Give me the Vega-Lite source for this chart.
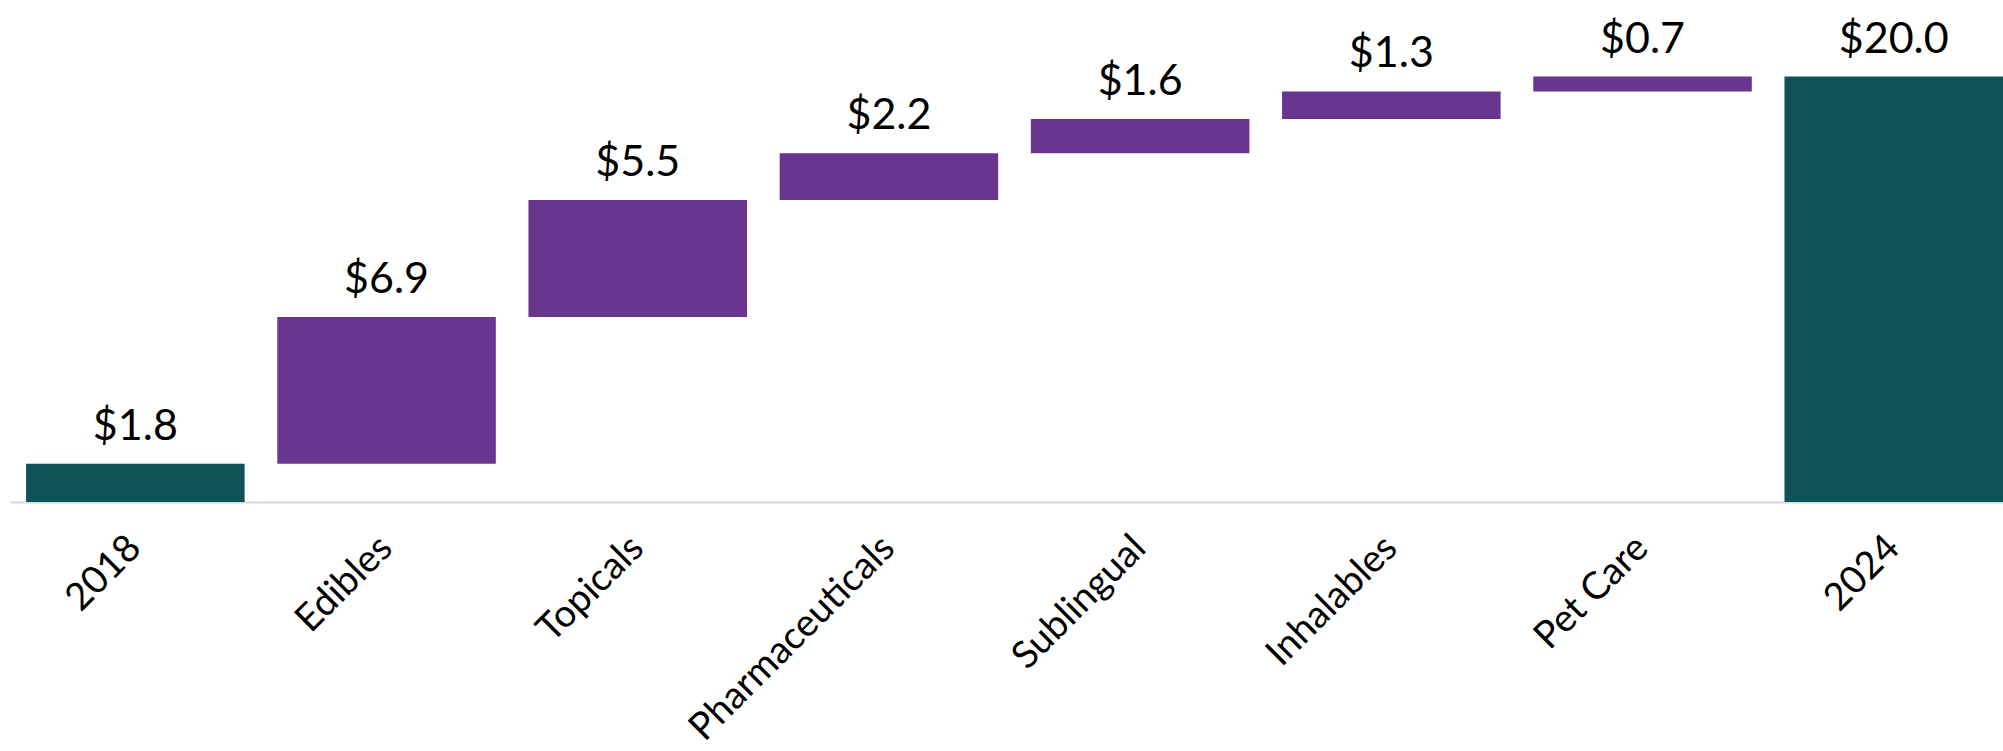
{
  "$schema": "https://vega.github.io/schema/vega-lite/v6.json",
  "autosize": {"type": "none"},
  "width": 1993,
  "height": 502,
  "padding": {"left": 10, "top": 0, "right": 0, "bottom": 249},
  "background": "white",
  "config": {"view": {"stroke": null}},
  "data": {
    "values": [
      {"category": "2018", "start": 0, "end": 1.8, "amount": 1.8, "kind": "total"},
      {"category": "Edibles", "start": 1.8, "end": 8.7, "amount": 6.9, "kind": "change"},
      {"category": "Topicals", "start": 8.7, "end": 14.2, "amount": 5.5, "kind": "change"},
      {"category": "Pharmaceuticals", "start": 14.2, "end": 16.4, "amount": 2.2, "kind": "change"},
      {"category": "Sublingual", "start": 16.4, "end": 18.0, "amount": 1.6, "kind": "change"},
      {"category": "Inhalables", "start": 18.0, "end": 19.3, "amount": 1.3, "kind": "change"},
      {"category": "Pet Care", "start": 19.3, "end": 20.0, "amount": 0.7, "kind": "change"},
      {"category": "2024", "start": 0, "end": 20.0, "amount": 20.0, "kind": "total"}
    ]
  },
  "encoding": {
    "x": {
      "field": "category",
      "type": "nominal",
      "sort": null,
      "scale": {"paddingInner": 0.13, "paddingOuter": 0.032, "align": 1},
      "axis": {
        "title": null,
        "labelAngle": -45,
        "labelAlign": "right",
        "labelBaseline": "middle",
        "labelFont": "Lato",
        "labelFontSize": 38,
        "labelColor": "#000000",
        "labelPadding": 40,
        "labelLimit": 0,
        "labelOverlap": false,
        "ticks": false,
        "grid": false,
        "domainColor": "#d9d9d9",
        "domainWidth": 2
      }
    }
  },
  "layer": [
    {
      "mark": {"type": "bar"},
      "encoding": {
        "y": {
          "field": "start",
          "type": "quantitative",
          "scale": {"domain": [0, 23.6], "nice": false},
          "axis": null
        },
        "y2": {"field": "end"},
        "color": {
          "field": "kind",
          "type": "nominal",
          "scale": {"domain": ["total", "change"], "range": ["#0F5257", "#68368F"]},
          "legend": null
        }
      }
    },
    {
      "mark": {"type": "text", "font": "Lato", "fontSize": 43, "color": "#000000", "baseline": "alphabetic", "dy": -24},
      "encoding": {
        "y": {"field": "end", "type": "quantitative"},
        "text": {"field": "amount", "type": "quantitative", "format": "$.1f"}
      }
    }
  ]
}
